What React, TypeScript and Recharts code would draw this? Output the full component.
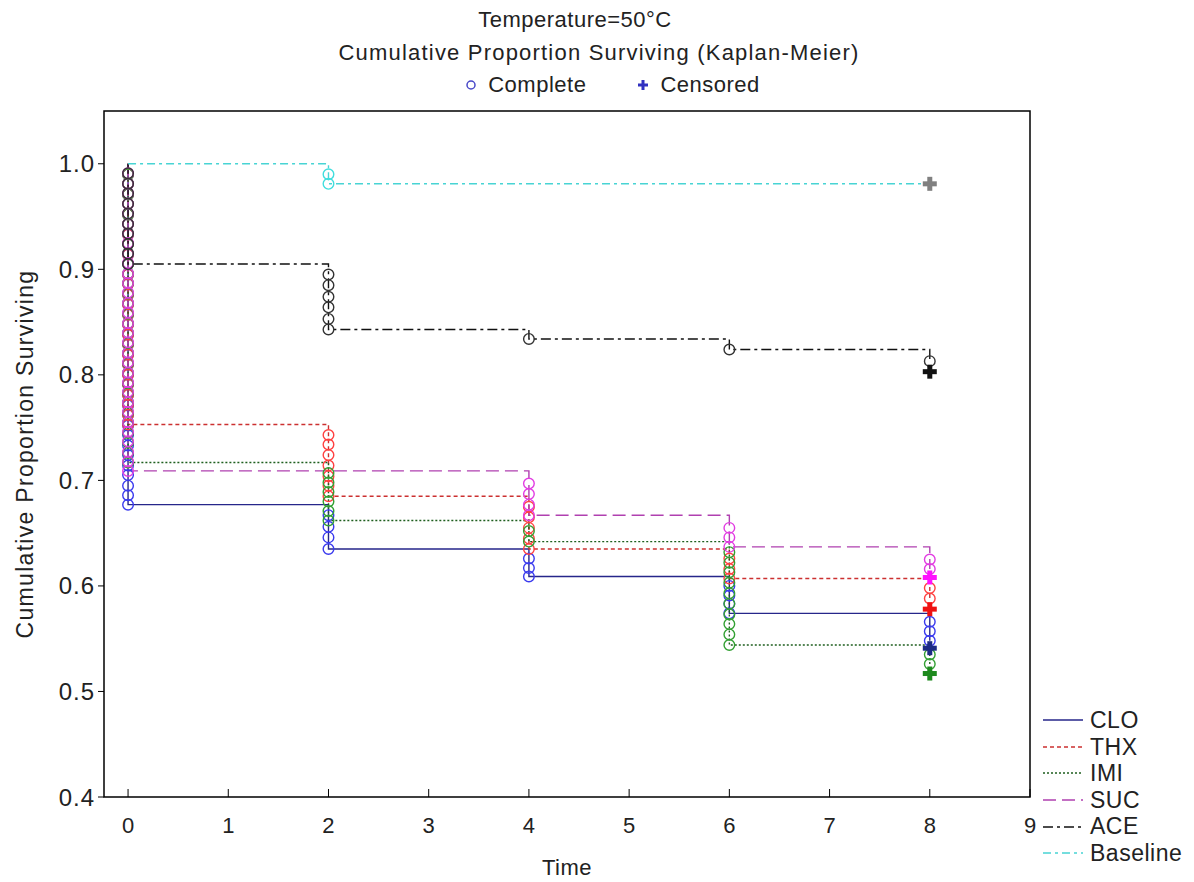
import React from 'react';
import { ComposedChart, Line, Scatter, XAxis, YAxis, ReferenceArea } from 'recharts';

const timePoints = [0, 2, 4, 6, 8];
const xTicks = [0, 1, 2, 3, 4, 5, 6, 7, 8, 9];
const yTicks = [0.4, 0.5, 0.6, 0.7, 0.8, 0.9, 1.0];

// survival level after the events at each time point
const cloLevels = [0.677, 0.635, 0.609, 0.574, 0.548];
const thxLevels = [0.753, 0.685, 0.635, 0.607, 0.588];
const imiLevels = [0.717, 0.662, 0.642, 0.544, 0.526];
const sucLevels = [0.709, 0.709, 0.667, 0.637, 0.616];
const aceLevels = [0.905, 0.843, 0.834, 0.824, 0.813];
const baseLevels = [1.0, 0.981, 0.981, 0.981, 0.981];

// complete (event) markers, one list per time point
const cloEvents = [
  [0.990, 0.981, 0.971, 0.962, 0.952, 0.943, 0.933, 0.924, 0.914, 0.905, 0.895, 0.886, 0.876, 0.867, 0.857, 0.848, 0.838,
   0.829, 0.819, 0.810, 0.800, 0.791, 0.781, 0.771, 0.762, 0.752, 0.743, 0.733, 0.724, 0.714, 0.705, 0.695, 0.686, 0.677],
  [0.667, 0.656, 0.646, 0.635],
  [0.626, 0.617, 0.609],
  [0.600, 0.591, 0.583, 0.574],
  [0.566, 0.557, 0.548],
];
const thxEvents = [
  [0.990, 0.981, 0.971, 0.962, 0.952, 0.943, 0.933, 0.924, 0.914, 0.905, 0.895, 0.886, 0.876, 0.867, 0.857, 0.848, 0.838,
   0.829, 0.819, 0.810, 0.800, 0.791, 0.781, 0.772, 0.762, 0.753],
  [0.743, 0.734, 0.724, 0.714, 0.704, 0.695, 0.685],
  [0.675, 0.665, 0.655, 0.645, 0.635],
  [0.626, 0.616, 0.607],
  [0.598, 0.588],
];
const imiEvents = [
  [0.990, 0.981, 0.971, 0.962, 0.952, 0.943, 0.934, 0.924, 0.915, 0.905, 0.896, 0.887, 0.877, 0.868, 0.858, 0.849, 0.840,
   0.830, 0.821, 0.811, 0.802, 0.792, 0.783, 0.774, 0.764, 0.755, 0.745, 0.736, 0.726, 0.717],
  [0.707, 0.698, 0.689, 0.680, 0.671, 0.662],
  [0.652, 0.642],
  [0.632, 0.622, 0.613, 0.603, 0.593, 0.583, 0.573, 0.564, 0.554, 0.544],
  [0.535, 0.526],
];
const sucEvents = [
  [0.991, 0.981, 0.972, 0.962, 0.953, 0.943, 0.934, 0.925, 0.915, 0.906, 0.896, 0.887, 0.878, 0.868, 0.859, 0.849, 0.840,
   0.831, 0.821, 0.812, 0.802, 0.793, 0.784, 0.774, 0.765, 0.755, 0.746, 0.737, 0.727, 0.718, 0.709],
  [],
  [0.697, 0.687, 0.677, 0.667],
  [0.655, 0.646, 0.637],
  [0.625, 0.616],
];
const aceEvents = [
  [0.991, 0.981, 0.972, 0.962, 0.953, 0.943, 0.934, 0.924, 0.915, 0.905],
  [0.895, 0.885, 0.874, 0.864, 0.853, 0.843],
  [0.834],
  [0.824],
  [0.813],
];
const baseEvents = [[], [0.990, 0.981], [], [], []];

// censored markers at the last time point
const censoredAt = 8;
const cloCensored = 0.541;
const thxCensored = 0.578;
const imiCensored = 0.517;
const sucCensored = 0.608;
const aceCensored = 0.803;
const baseCensored = 0.981;

const groups = [
  { name: 'CLO', levels: cloLevels, events: cloEvents, censored: cloCensored, line: '#26268a', dash: undefined, marker: '#3a3aee', cross: '#1c2a84' },
  { name: 'THX', levels: thxLevels, events: thxEvents, censored: thxCensored, line: '#cc3030', dash: '4 3', marker: '#ff4040', cross: '#ee1111' },
  { name: 'IMI', levels: imiLevels, events: imiEvents, censored: imiCensored, line: '#1f5f1f', dash: '2 2', marker: '#33a033', cross: '#1e8a1e' },
  { name: 'SUC', levels: sucLevels, events: sucEvents, censored: sucCensored, line: '#b040b0', dash: '13 6', marker: '#e23ce2', cross: '#ff10ff' },
  { name: 'ACE', levels: aceLevels, events: aceEvents, censored: aceCensored, line: '#111111', dash: '10 4 3 4', marker: '#333333', cross: '#111111' },
  { name: 'Baseline', levels: baseLevels, events: baseEvents, censored: baseCensored, line: '#48d4d4', dash: '8 4 3 4', marker: '#40dede', cross: '#808080' },
];

const FONT = '"Liberation Sans", Arial, sans-serif';

const circleShape = (color: string) => (props: any) => (
  <circle cx={props.cx} cy={props.cy} r={5.3} fill="none" stroke={color} strokeWidth={1.4} />
);

const crossShape = (color: string) => (props: any) => (
  <g fill={color}>
    <rect x={props.cx - 7} y={props.cy - 2.5} width={14} height={5} />
    <rect x={props.cx - 2.5} y={props.cy - 7} width={5} height={14} />
  </g>
);

const App: React.FC = () => {
  const lineData = groups.map(g => [
    { t: 0, s: 1.0 },
    ...timePoints.map((t, i) => ({ t, s: g.levels[i] })),
  ]);
  const eventData = groups.map(g => timePoints.flatMap((t, i) => g.events[i].map(s => ({ t, s }))));
  const censoredData = groups.map(g => [{ t: censoredAt, s: g.censored }]);

  return (
    <div style={{ position: 'absolute', left: 0, top: 0, width: 1194, height: 882, background: '#fff', fontFamily: FONT, color: '#222' }}>
      <div style={{ position: 'absolute', left: 104, width: 926, top: 4, textAlign: 'center', fontSize: 22, lineHeight: '32.5px', letterSpacing: 0.5 }}>
        <div style={{ paddingLeft: 16 }}>Temperature=50°C</div>
        <div style={{ letterSpacing: 1.2, paddingLeft: 64 }}>Cumulative Proportion Surviving (Kaplan-Meier)</div>
        <div style={{ display: 'flex', justifyContent: 'center', alignItems: 'center', gap: 10, paddingLeft: 90 }}>
          <svg width={14} height={14}><circle cx={7} cy={7} r={4} fill="none" stroke="#4848c8" strokeWidth={1.5} /></svg>
          <span style={{ marginRight: 40 }}>Complete</span>
          <svg width={14} height={14}>
            <rect x={2} y={5.5} width={10} height={3} fill="#3030c0" />
            <rect x={5.5} y={2} width={3} height={10} fill="#3030c0" />
          </svg>
          <span>Censored</span>
        </div>
      </div>

      <ComposedChart width={1194} height={882} margin={{ top: 111, right: 164, bottom: 40, left: 0 }}>
        <XAxis
          type="number"
          dataKey="t"
          domain={[-0.24, 9]}
          ticks={xTicks}
          allowDataOverflow
          axisLine={false}
          tickSize={-8}
          tickMargin={28}
          height={45}
          tick={{ fontSize: 22, fill: '#222', fontFamily: FONT }}
          tickLine={{ stroke: '#000' }}
          label={{ value: 'Time', position: 'insideBottom', offset: -33, style: { fontSize: 22, fill: '#222', fontFamily: FONT, letterSpacing: 0.5 } }}
        />
        <YAxis
          type="number"
          dataKey="s"
          domain={[0.4, 1.05]}
          ticks={yTicks}
          allowDataOverflow
          axisLine={false}
          width={104}
          tickSize={6}
          tickMargin={3}
          tickFormatter={(v: number) => v.toFixed(1)}
          tick={{ fontSize: 24, fill: '#222', fontFamily: FONT, letterSpacing: 1 }}
          tickLine={{ stroke: '#000' }}
          label={{ value: 'Cumulative Proportion Surviving', angle: -90, position: 'insideLeft', offset: 25, style: { textAnchor: 'middle', fontSize: 23, fill: '#222', fontFamily: FONT, letterSpacing: 1.3 } }}
        />
        <ReferenceArea x1={-0.24} x2={9} y1={0.4} y2={1.05} fill="none" stroke="#000" strokeWidth={1.5} ifOverflow="visible" />
        {groups.map((g, i) => (
          <Line
            key={g.name}
            data={lineData[i]}
            dataKey="s"
            type="stepAfter"
            stroke={g.line}
            strokeWidth={1.4}
            strokeDasharray={g.dash}
            dot={false}
            activeDot={false}
            isAnimationActive={false}
          />
        ))}
        {groups.map((g, i) => (
          <Scatter key={g.name + '-c'} data={eventData[i]} shape={circleShape(g.marker)} isAnimationActive={false} />
        ))}
        {groups.map((g, i) => (
          <Scatter key={g.name + '-x'} data={censoredData[i]} shape={crossShape(g.cross)} isAnimationActive={false} />
        ))}
      </ComposedChart>

      <div style={{ position: 'absolute', left: 1042, top: 707, fontSize: 23, lineHeight: '26.6px', letterSpacing: 0.5 }}>
        {groups.map(g => (
          <div key={g.name} style={{ display: 'flex', alignItems: 'center' }}>
            <svg width={42} height={10} style={{ marginRight: 6 }}>
              <line x1={1} x2={41} y1={5} y2={5} stroke={g.line} strokeWidth={1.5} strokeDasharray={g.dash} />
            </svg>
            <span>{g.name}</span>
          </div>
        ))}
      </div>
    </div>
  );
};

export default App;
